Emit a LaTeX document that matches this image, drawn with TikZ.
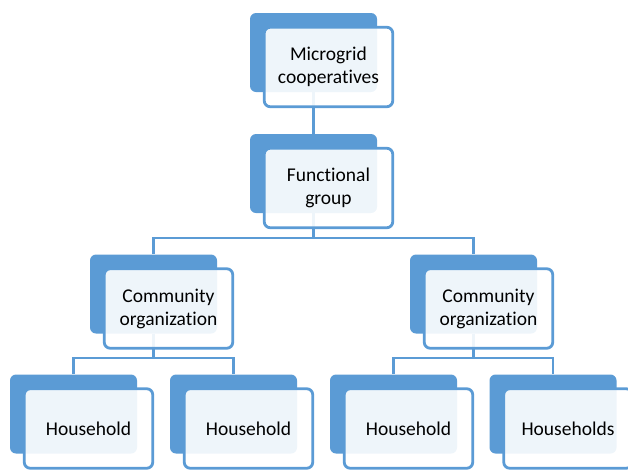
\documentclass[tikz,border=0pt]{standalone}
\usepackage{fontspec}
\setmainfont[Ligatures=NoCommon]{Carlito}
\usetikzlibrary{calc}
\definecolor{obl}{HTML}{5B9BD5}
\definecolor{txt}{HTML}{000000}
\begin{document}
\begin{tikzpicture}[x=1pt,y=-1pt,
  backbox/.style={draw=none,fill=obl,rounded corners=6pt,minimum width=127pt,minimum height=79pt,inner sep=0pt},
  frontbox/.style={draw=obl,line width=2.8pt,fill=white,fill opacity=0.9,text opacity=1,rounded corners=6pt,minimum width=128.5pt,minimum height=79.5pt,inner sep=0pt,align=center,text=txt,font=\fontsize{19.5pt}{23pt}\selectfont},
  conn/.style={draw=obl,line width=2.8pt}]
\useasboundingbox (0,0) rectangle (628,469);
% back boxes
\node[backbox] (b1) at (313.5,52.5) {};
\node[backbox] (b2) at (313.5,173.5) {};
\node[backbox] (b3) at (153.5,294) {};
\node[backbox] (b4) at (473.5,294) {};
\node[backbox] (b5) at (73.5,414) {};
\node[backbox] (b6) at (233.5,414) {};
\node[backbox] (b7) at (393.5,414) {};
\node[backbox] (b8) at (553,414) {};
% junctions
\coordinate (j2) at (313.5,238);
\coordinate (j3) at (153.5,358);
\coordinate (j4) at (473.5,358);
% connectors
\draw[conn] (b1.south) -- (b2.north);
\draw[conn] (b2.south) -- (j2);
\draw[conn] (j2) -| (b3.north);
\draw[conn] (j2) -| (b4.north);
\draw[conn] (b3.south) -- (j3);
\draw[conn] (j3) -| (b5.north);
\draw[conn] (j3) -| (b6.north);
\draw[conn] (b4.south) -- (j4);
\draw[conn] (j4) -| (b7.north);
\draw[conn] (j4) -| (b8.north);
% front boxes
\node[frontbox] (f1) at ($(b1)+(15,14.5)$) {Microgrid\\cooperatives};
\node[frontbox] (f2) at ($(b2)+(15,14.5)$) {Functional\\group};
\node[frontbox] (f3) at ($(b3)+(15,14.5)$) {Community\\organization};
\node[frontbox] (f4) at ($(b4)+(15,14.5)$) {Community\\organization};
\node[frontbox] (f5) at ($(b5)+(15,14.5)$) {Household};
\node[frontbox] (f6) at ($(b6)+(15,14.5)$) {Household};
\node[frontbox] (f7) at ($(b7)+(15,14.5)$) {Household};
\node[frontbox] (f8) at ($(b8)+(15,14.5)$) {Households};
\end{tikzpicture}
\end{document}
